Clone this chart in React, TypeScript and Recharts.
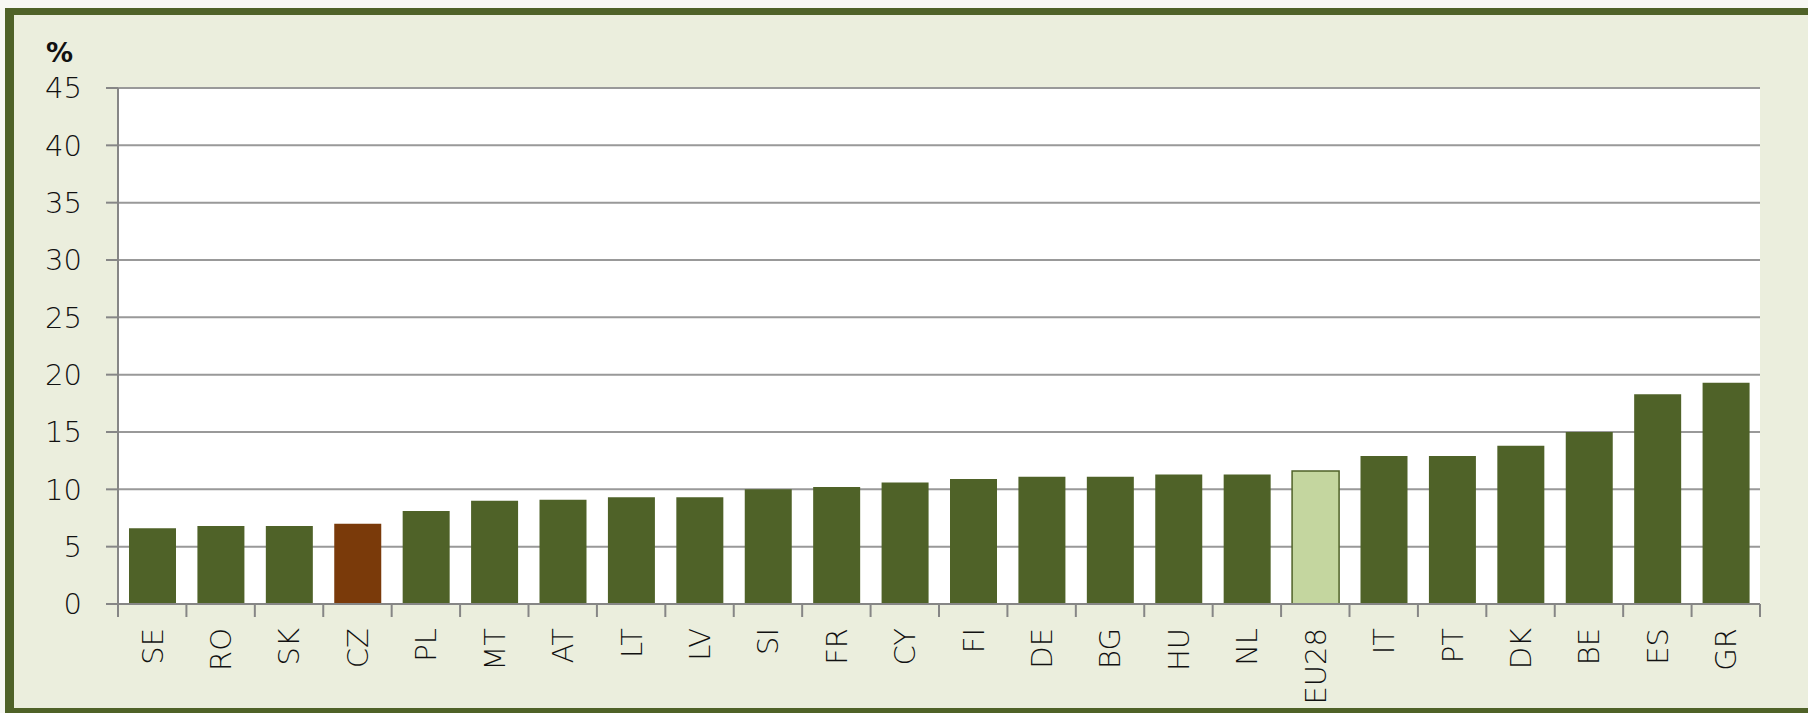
import React from 'react';
import { BarChart, Bar, XAxis, YAxis, CartesianGrid, Cell } from 'recharts';

const categories = ['SE', 'RO', 'SK', 'CZ', 'PL', 'MT', 'AT', 'LT', 'LV', 'SI', 'FR', 'CY', 'FI', 'DE', 'BG', 'HU', 'NL', 'EU28', 'IT', 'PT', 'DK', 'BE', 'ES', 'GR'];
const values = [6.6, 6.8, 6.8, 7.0, 8.1, 9.0, 9.1, 9.3, 9.3, 10.0, 10.2, 10.6, 10.9, 11.1, 11.1, 11.3, 11.3, 11.6, 12.9, 12.9, 13.8, 15.0, 18.3, 19.3];
const yTicks = [0, 5, 10, 15, 20, 25, 30, 35, 40, 45];
const highlightCountry = 'CZ';
const highlightAverage = 'EU28';

const data = categories.map((c, i) => ({ name: c, value: values[i] }));

const W = 1808;
const H = 713;
const M = { top: 88, right: 48, bottom: 0, left: 0 };
const Y_AXIS_W = 118;
const X_AXIS_H = 109;
const PLOT_W = W - M.left - M.right - Y_AXIS_W;
const FONT = '"DejaVu Sans", Verdana, sans-serif';
const TEXT = '#111111';
const AXIS = '#868686';

const XTick = (props: any) => {
  const { x, y, payload, index } = props;
  const step = PLOT_W / categories.length;
  const axisY = y - 24;
  return (
    <g>
      <line x1={x - step / 2} x2={x - step / 2} y1={axisY} y2={axisY + 13} stroke={AXIS} strokeWidth={2} />
      {index === categories.length - 1 && (
        <line x1={x + step / 2} x2={x + step / 2} y1={axisY} y2={axisY + 13} stroke={AXIS} strokeWidth={2} />
      )}
      <text
        x={x}
        y={y}
        transform={`rotate(-90 ${x} ${y})`}
        textAnchor="end"
        dy="0.36em"
        fontSize={29}
        fontFamily={FONT}
        fontWeight={300}
        fill={TEXT}
      >
        {payload.value}
      </text>
    </g>
  );
};

export default function App() {
  return (
    <div style={{ position: 'absolute', left: 0, top: 0, width: W, height: H, background: '#f7f8f3', overflow: 'hidden' }}>
      <div
        style={{
          position: 'absolute',
          left: 5,
          top: 8,
          width: W + 20,
          height: H - 8,
          boxSizing: 'border-box',
          borderTop: '7px solid #4f6228',
          borderLeft: '9px solid #4f6228',
          borderBottom: '5px solid #4f6228',
          background: '#ebeedd',
        }}
      />
      <div
        style={{
          position: 'absolute',
          left: 46,
          top: 37,
          fontFamily: FONT,
          fontWeight: 'bold',
          fontSize: 27,
          color: '#111111',
        }}
      >
        %
      </div>
      <div style={{ position: 'absolute', left: 0, top: 0 }}>
        <BarChart width={W} height={H} data={data} margin={M} barSize={47}>
          <CartesianGrid vertical={false} stroke="#999999" strokeWidth={2} fill="#ffffff" fillOpacity={1} />
          <XAxis
            dataKey="name"
            height={X_AXIS_H}
            interval={0}
            axisLine={{ stroke: AXIS, strokeWidth: 2 }}
            tickLine={false}
            tickSize={0}
            tickMargin={24}
            tick={<XTick />}
          />
          <YAxis
            width={Y_AXIS_W}
            domain={[0, 45]}
            ticks={yTicks}
            interval={0}
            axisLine={{ stroke: AXIS, strokeWidth: 2 }}
            tickLine={{ stroke: AXIS, strokeWidth: 2 }}
            tickSize={12}
            tickMargin={24}
            tick={{ fontSize: 29, fontFamily: FONT, fontWeight: 300, fill: TEXT }}
          />
          <Bar dataKey="value" isAnimationActive={false} fill="#4f6228">
            {data.map((d) => (
              <Cell
                key={d.name}
                fill={d.name === highlightCountry ? '#7a3a0a' : d.name === highlightAverage ? '#c4d69f' : '#4f6228'}
                stroke={d.name === highlightAverage ? '#4f6228' : 'none'}
                strokeWidth={d.name === highlightAverage ? 1.5 : 0}
              />
            ))}
          </Bar>
        </BarChart>
      </div>
    </div>
  );
}
